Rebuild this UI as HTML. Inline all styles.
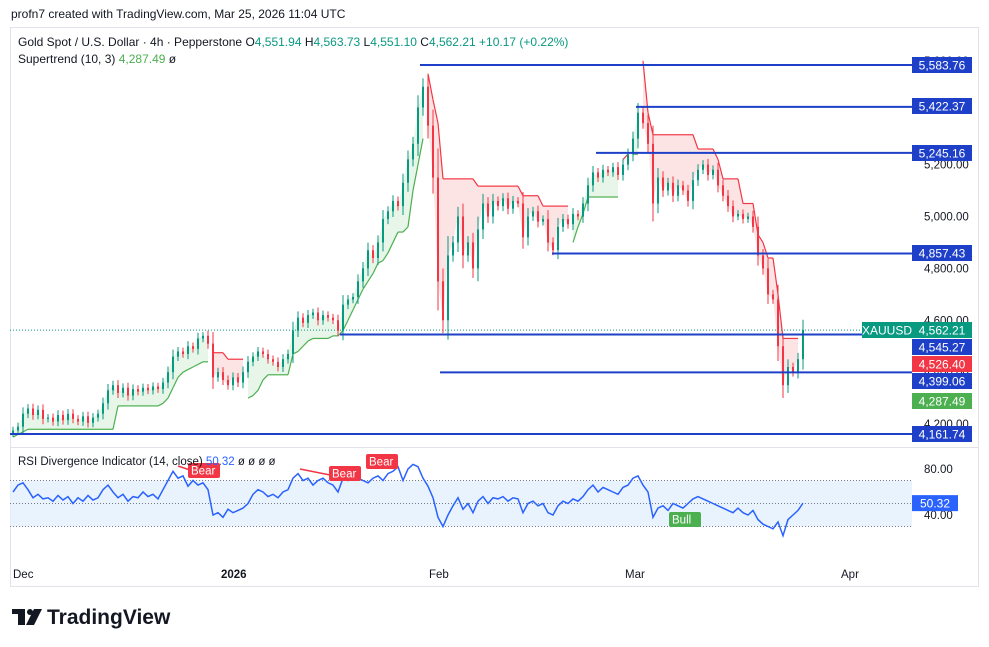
<!DOCTYPE html>
<html><head><meta charset="utf-8"><style>
body{margin:0;background:#fff;width:989px;height:647px;overflow:hidden;font-family:"Liberation Sans",sans-serif}
svg{position:absolute;left:0;top:0}
</style></head><body>
<svg id="c" width="989" height="647" xmlns="http://www.w3.org/2000/svg">
<text x="11" y="18" font-size="12" fill="#131722">profn7 created with TradingView.com, Mar 25, 2026 11:04 UTC</text>
<rect x="10.5" y="27.5" width="968" height="559" fill="none" stroke="#e0e3eb"/>
<line x1="10" y1="447.5" x2="978" y2="447.5" stroke="#e0e3eb"/>
<g id="price"></g>
<g id="rsi"></g>
<text x="18" y="46" font-size="12" fill="#131722">Gold Spot / U.S. Dollar · 4h · Pepperstone  O<tspan fill="#089981">4,551.94</tspan>  H<tspan fill="#089981">4,563.73</tspan>  L<tspan fill="#089981">4,551.10</tspan>  C<tspan fill="#089981">4,562.21</tspan>  <tspan fill="#089981">+10.17 (+0.22%)</tspan></text>
<text x="18" y="63" font-size="12" fill="#131722">Supertrend (10, 3)  <tspan fill="#4caf50">4,287.49</tspan>  ø</text>
<text x="18" y="465" font-size="11.5" fill="#131722">RSI Divergence Indicator (14, close)  <tspan fill="#2962ff">50.32</tspan>  ø  ø  ø  ø</text>
<g font-size="11.5" fill="#131722">
<text x="13" y="578">Dec</text><text x="221" y="578" font-weight="bold">2026</text><text x="429" y="578">Feb</text><text x="625" y="578">Mar</text><text x="841" y="578">Apr</text></g>
<g fill="#131722">
<rect x="12" y="609" width="13" height="5"/><rect x="18" y="609" width="7" height="16"/><circle cx="30" cy="612" r="3"/><polygon points="34,609 42,609 34,625 26,625"/>
<text x="47" y="624" font-size="21" font-weight="bold">TradingView</text></g>
</svg>
<script>
const closes=[4175,4190,4240,4260,4235,4255,4220,4225,4210,4235,4215,4240,4220,4210,4230,4205,4225,4240,4280,4330,4350,4320,4340,4310,4335,4325,4340,4330,4345,4335,4360,4400,4460,4480,4470,4500,4490,4530,4540,4510,4380,4400,4370,4350,4380,4360,4400,4440,4460,4480,4470,4450,4440,4420,4450,4470,4560,4610,4590,4620,4630,4600,4620,4610,4600,4560,4660,4680,4690,4750,4800,4870,4840,4900,4990,5020,5060,5040,5130,5220,5280,5420,5500,5350,5150,4750,4600,4850,4900,5000,4850,4900,4800,4950,5050,5000,5060,5040,5070,5030,5060,5050,4920,5000,5020,4980,4990,4900,4870,4960,4990,4970,5010,5000,5050,5120,5170,5150,5180,5170,5190,5160,5200,5240,5300,5400,5360,5280,5050,5150,5100,5130,5080,5120,5100,5060,5140,5180,5200,5160,5180,5120,5080,5040,5000,5010,4990,5000,4960,4850,4800,4700,4680,4500,4350,4420,4400,4450,4562.21];
const supertrend=[4150,4160,4170,4180,4180,4180,4180,4180,4180,4180,4180,4180,4180,4180,4180,4180,4180,4180,4180,4180,4180,4270,4270,4270,4270,4270,4270,4270,4270,4270,4280,4300,4340,4380,4400,4410,4420,4430,4440,4440,4475,4475,4475,4450,4450,4450,4450,4300,4310,4330,4370,4390,4390,4390,4390,4390,4470,4480,4500,4520,4530,4530,4530,4530,4540,4540,4560,4600,4640,4680,4720,4750,4780,4820,4830,4860,4900,4940,4940,4960,5100,5200,5300,5550,5450,5360,5145,5145,5145,5145,5145,5145,5145,5117,5117,5117,5117,5117,5117,5117,5117,5117,5080,5080,5080,5080,5040,5040,5040,5040,5040,5040,4900,4960,5010,5075,5075,5075,5075,5075,5075,5075,5220,5240,5240,5240,5600,5400,5315,5315,5315,5315,5315,5315,5315,5315,5315,5260,5260,5260,5260,5220,5145,5145,5145,5145,5050,5050,5050,4930,4900,4840,4840,4700,4530,4530,4530,4530,4287.49];
const rsiValues=[60,66,68,62,55,58,54,55,52,57,53,56,50,55,52,57,53,55,62,66,60,55,58,52,56,55,60,56,58,54,62,70,78,72,74,65,70,66,68,62,40,42,38,45,42,44,46,50,58,62,60,56,58,55,60,62,72,76,70,72,66,70,72,68,66,60,72,70,76,72,70,68,72,74,70,76,78,82,70,80,84,82,72,65,55,38,30,40,48,55,45,50,42,52,56,50,55,54,56,52,55,54,42,50,52,48,50,42,40,48,52,50,54,52,56,62,66,60,64,62,60,58,64,66,72,74,66,60,38,46,48,44,50,48,46,50,54,56,54,52,50,48,46,44,42,46,42,40,44,36,32,30,28,34,22,36,40,44,50.32];
const priceTicks=[5600,5200,5000,4800,4600,4400,4200];
const levels=[5583.76,5422.37,5245.16,4857.43,4545.27,4399.06,4161.74];
const levelStarts=[420,636,596,552,340,440,10];
const rsiTicks=[80,40];
const NS="http://www.w3.org/2000/svg";
const X=i=>13+i*5;
const Y=p=>65+(5583.76-p)*0.2595;
const RY=v=>515-(v-40)*1.15;
function mk(parent,tag,attrs){const e=document.createElementNS(NS,tag);for(const k in attrs)e.setAttribute(k,attrs[k]);parent.appendChild(e);return e;}
const P=document.getElementById('price'),R=document.getElementById('rsi');
for(let i=0;i<closes.length-1;i++){
 const up=supertrend[i]<closes[i],up2=supertrend[i+1]<closes[i+1];
 if(up!==up2)continue;
 const f=mk(P,'polygon',{points:`${X(i)},${Y(supertrend[i])} ${X(i+1)},${Y(supertrend[i+1])} ${X(i+1)},${Y(closes[i+1])} ${X(i)},${Y(closes[i])}`,fill:up?'#e8f5e9':'#fde4e4'});
 
 
 const l=mk(P,'line',{x1:X(i),y1:Y(supertrend[i]),x2:X(i+1),y2:Y(supertrend[i+1]),stroke:up?'#4caf50':'#f23645','stroke-width':1.2});
 
 
}
mk(P,'line',{x1:10,x2:912,y1:Y(4562.21),y2:Y(4562.21),stroke:'#089981','stroke-dasharray':'1 2'});
for(let i=0;i<closes.length;i++){
 const o=i?closes[i-1]:closes[0]-10,c=closes[i],col=c>=o?'#089981':'#f23645';
 const sp=12+Math.abs(c-o)*0.25;
 const w=mk(P,'line',{x1:X(i),x2:X(i),y1:Y(Math.max(o,c)+sp),y2:Y(Math.min(o,c)-sp),stroke:col});
 
 
 const b=mk(P,'rect',{x:X(i)-1,y:Y(Math.max(o,c)),width:2,height:Math.max(1,Math.abs(Y(o)-Y(c))),fill:col});
 
 
}
priceTicks.forEach(p=>{const t=mk(P,'text',{x:924,y:Y(p)+4,'font-size':11.5,fill:'#131722'});t.textContent=p.toLocaleString('en-US',{minimumFractionDigits:2});
 
 });
levels.forEach((p,k)=>{const l=mk(P,'line',{x1:levelStarts[k],x2:912,y1:Y(p),y2:Y(p),stroke:'#1e40c8','stroke-width':2});
 
 });
function label(y,txt,bg,x,w){const g=mk(P,'g',{});mk(g,'rect',{x:x,y:y-8,width:w,height:16,fill:bg});const t=mk(g,'text',{x:x+w/2,y:y+4.5,'font-size':12,fill:'#fff','text-anchor':'middle'});t.textContent=txt;
 
 }
const lb=[[5583.76,65],[5422.37,106],[5245.16,153],[4857.43,253],[4545.27,347],[4399.06,381]];
lb.forEach(a=>label(a[1],a[0].toLocaleString('en-US',{minimumFractionDigits:2}),'#1e40c8',912,60));
label(330,'4,562.21','#089981',912,60);
label(330,'XAUUSD','#089981',862,50);
label(364,'4,526.40','#f23645',912,60);
label(401,'4,287.49','#4caf50',912,60);
label(434,'4,161.74','#1e40c8',912,60);
mk(R,'rect',{x:10,y:RY(70),width:902,height:RY(30)-RY(70),fill:'#e3f0fd',opacity:0.8});
[70,50,30].forEach(v=>mk(R,'line',{x1:10,x2:912,y1:RY(v),y2:RY(v),stroke:'#787b86','stroke-dasharray':'1 2'}));
rsiTicks.forEach(v=>{const t=mk(R,'text',{x:924,y:RY(v)+4,'font-size':11.5,fill:'#131722'});t.textContent=v.toFixed(2);
 
 });
const rl=mk(R,'polyline',{points:rsiValues.map((v,i)=>`${X(i)},${RY(v)}`).join(' '),fill:'none',stroke:'#2962ff','stroke-width':1.5});


const rv=rsiValues[rsiValues.length-1];
mk(R,'rect',{x:912,y:RY(rv)-8,width:46,height:16,fill:'#2962ff'});
const rt=mk(R,'text',{x:935,y:RY(rv)+4.5,'font-size':12,fill:'#fff','text-anchor':'middle'});rt.textContent=rv.toFixed(2);
function tag(x,y,txt,bg){const g=mk(R,'g',{});mk(g,'rect',{x:x,y:y,width:txt.length*7+4,height:15,rx:2,fill:bg});const t=mk(g,'text',{x:x+3,y:y+11.5,'font-size':11.5,fill:'#fff'});t.textContent=txt;
 
 }
mk(R,'line',{x1:178,y1:466,x2:190,y2:470,stroke:'#f23645','stroke-width':1.5});
mk(R,'line',{x1:300,y1:469,x2:330,y2:475,stroke:'#f23645','stroke-width':1.5});
tag(188,463,'Bear','#f23645');tag(329,466,'Bear','#f23645');tag(366,454,'Bear','#f23645');tag(669,512,'Bull','#4caf50');
</script>
</body></html>
